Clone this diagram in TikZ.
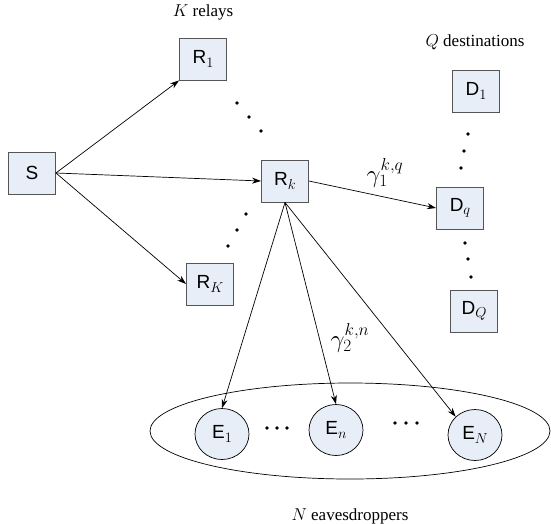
\documentclass[tikz,border=0pt]{standalone}
\usepackage{fontspec}
\setmainfont{Liberation Serif}
\newfontfamily\nodefont{Liberation Sans}
\usetikzlibrary{arrows.meta,shapes.geometric}
\definecolor{boxfill}{HTML}{E8EEF7}
\definecolor{boxline}{HTML}{555555}
\newcommand{\sbx}[1]{\raisebox{-0.35ex}{\fontsize{15}{15}\selectfont$#1$}}
\tikzset{
  x=1pt,y=-1pt,
  boxnode/.style={draw=boxline,fill=boxfill,line width=0.9pt,minimum width=47pt,minimum height=42pt,inner sep=0pt,font=\nodefont\fontsize{19}{21}\selectfont},
  eavnode/.style={draw=black,fill=boxfill,line width=0.7pt,ellipse,minimum width=54pt,minimum height=51pt,inner sep=0pt,font=\nodefont\fontsize{19}{21}\selectfont},
  link/.style={-{Stealth[length=9pt,width=6pt]},line width=0.7pt},
  dotmark/.style={circle,fill=black,inner sep=0pt,minimum size=3.6pt},
  caption/.style={font=\fontsize{17}{19}\selectfont},
  glabel/.style={font=\fontsize{23}{25}\selectfont}
}
\begin{document}
\begin{tikzpicture}
\useasboundingbox (0,0) rectangle (551,523);
% group ellipse
\node[draw=black,line width=0.7pt,ellipse,minimum width=400pt,minimum height=96pt] (grp) at (350,431) {};
% nodes
\node[boxnode] (S) at (32,173) {S};
\node[boxnode] (R1) at (203,59) {R\sbx{1}};
\node[boxnode] (Rk) at (285,181) {R\sbx{k}};
\node[boxnode] (RK) at (210,284) {R\sbx{K}};
\node[boxnode] (D1) at (476,91) {D\sbx{1}};
\node[boxnode] (Dq) at (460,208) {D\sbx{q}};
\node[boxnode] (DQ) at (474,311) {D\sbx{Q}};
\node[eavnode] (E1) at (222,434) {E\sbx{1}};
\node[eavnode] (En) at (336,430) {E\sbx{n}};
\node[eavnode] (EN) at (475,435) {E\sbx{N}};
% captions
\node[caption] (capK) at (203,12) {$K$ relays};
\node[caption] (capQ) at (475,42) {$Q$ destinations};
\node[caption] (capN) at (350,516) {$N$ eavesdroppers};
% gamma labels
\node[glabel] (g1) at (385,173) {$\gamma_1^{k,q}$};
\node[glabel] (g2) at (350,338) {$\gamma_2^{k,n}$};
% connectors
\coordinate (Sout) at (S.east);
\draw[link] (Sout) -- (R1.south west);
\draw[link] (Sout) -- (Rk.west);
\draw[link] (Sout) -- (RK.west);
\coordinate (Rkb) at (Rk.south);
\draw[link] (Rk.east) -- (Dq.west);
\draw[link] (Rkb) -- (E1.north);
\draw[link] (Rkb) -- (En.north);
\draw[link] (Rkb) -- (EN.north west);
% dots
\foreach \p in {(237,103),(249,117),(261,131),(246,214),(237,230),(228,246),(468,134),(464,151),(461,168),(465,243),(468,259),(471,277),(267,428),(277,428),(287,428),(395,423),(406,423),(417,423)}
  \node[dotmark] at \p {};
\end{tikzpicture}
\end{document}
